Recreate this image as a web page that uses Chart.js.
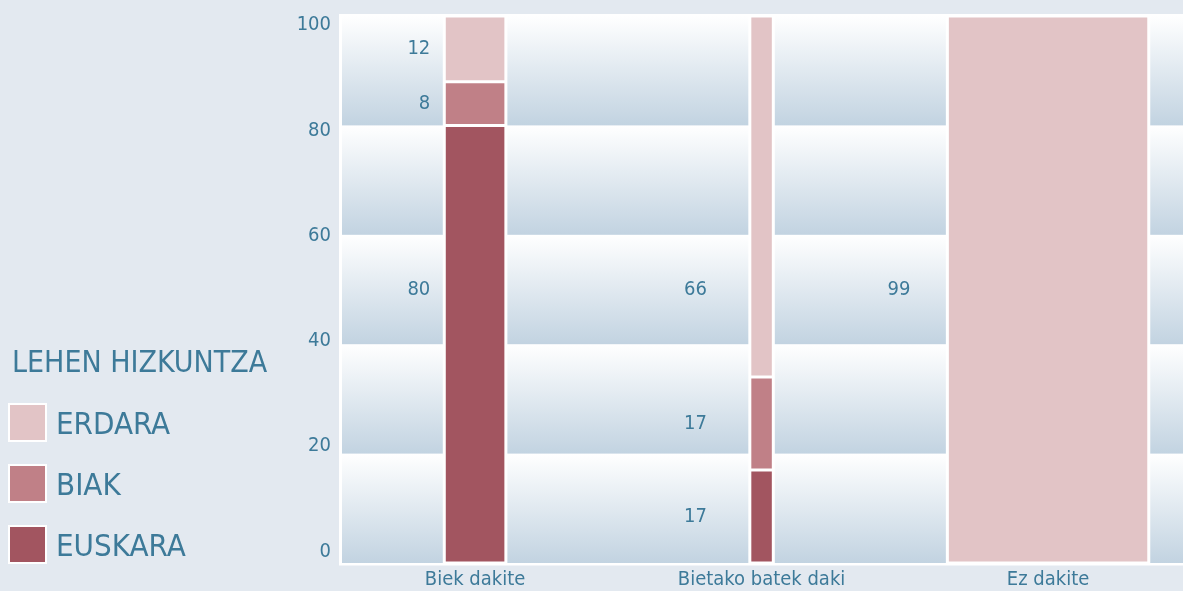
<!DOCTYPE html>
<html lang="eu">
<head>
    <meta charset="UTF-8">
    <title>Lehen hizkuntza</title>
    <script src="https://cdn.jsdelivr.net/npm/chart.js"></script>
    <style>
        html, body {
            margin: 0;
            padding: 0;
            background-color: #e3e9f0;
            overflow: hidden;
        }
        body {
            width: 1183px;
            height: 591px;
            position: relative;
            font-family: "DejaVu Sans Condensed", "DejaVu Sans", sans-serif;
            color: #3d7a99;
        }
        canvas {
            position: absolute;
            left: 0;
            top: 0;
        }
        .legend-title {
            position: absolute;
            left: 12px;
            top: 345px;
            font-size: 30px;
            line-height: 34px;
            white-space: nowrap;
        }
        .legend-item {
            position: absolute;
            left: 8px;
            height: 39px;
            display: flex;
            align-items: center;
            white-space: nowrap;
            font-size: 31px;
        }
        .legend-item .box {
            width: 35px;
            height: 35px;
            border: 2px solid #fff;
            margin-right: 9px;
        }
    </style>
</head>
<body>
    <canvas id="chart" width="1183" height="591"></canvas>
    <div id="legend"></div>

    <script>
        // data
        const categories = ['Biek dakite', 'Bietako batek daki', 'Ez dakite'];
        const columnShare = [21.5, 8.2, 70.3];   // bar width, % of people
        const seriesNames = ['EUSKARA', 'BIAK', 'ERDARA'];
        const euskara = [80, 17, 0];
        const biak = [8, 17, 0];
        const erdara = [12, 66, 99];
        const yTicks = [0, 20, 40, 60, 80, 100];

        const seriesColors = ['#a25560', '#c08087', '#e2c4c6'];
        const labelGap = [14, 43, 37];
        const textColor = '#3d7a99';
        const fontFamily = '"DejaVu Sans Condensed", "DejaVu Sans", sans-serif';

        const series = [euskara, biak, erdara];
        const totals = categories.map((c, i) => series.reduce((s, arr) => s + arr[i], 0));

        // one dataset per column and language, so each column can get its own width
        const datasets = [];
        categories.forEach((cat, ci) => {
            series.forEach((arr, si) => {
                if (!arr[ci]) return;
                datasets.push({
                    label: seriesNames[si],
                    data: [{ x: ci + 0.5, y: arr[ci] / totals[ci] * 100 }],
                    valueText: String(arr[ci]),
                    column: ci,
                    backgroundColor: seriesColors[si],
                    borderColor: '#ffffff',
                    borderWidth: 1.5,
                    borderSkipped: false,
                    categoryPercentage: 1,
                    barPercentage: columnShare[ci] / 100
                });
            });
        });

        // gradient tiles behind the bars
        const tilePlugin = {
            id: 'tiles',
            beforeDatasetsDraw(chart) {
                const { ctx, chartArea: a } = chart;
                const y = chart.scales.y;
                const cols = categories.map((c, ci) => {
                    const idx = chart.data.datasets.findIndex(d => d.column === ci);
                    const el = chart.getDatasetMeta(idx).data[0];
                    return [el.x - el.width / 2, el.x + el.width / 2];
                });
                const segs = [];
                let start = a.left + 1;
                cols.forEach(c => {
                    segs.push([start, c[0] - 1.5]);
                    start = c[1] + 1.5;
                });
                segs.push([start, a.right + 20]);

                ctx.save();
                ctx.fillStyle = '#ffffff';
                ctx.fillRect(a.left - 2, a.top - 2, a.right - a.left + 40, a.bottom - a.top + 4.5);
                for (let i = 0; i < yTicks.length - 1; i++) {
                    const top = y.getPixelForValue(yTicks[i + 1]);
                    const bot = y.getPixelForValue(yTicks[i]);
                    const g = ctx.createLinearGradient(0, top, 0, bot);
                    g.addColorStop(0, '#ffffff');
                    g.addColorStop(1, '#c2d3e1');
                    ctx.fillStyle = g;
                    segs.forEach(s => ctx.fillRect(s[0], top, s[1] - s[0], bot - top));
                }
                ctx.restore();
            },
            afterDatasetsDraw(chart) {
                const { ctx } = chart;
                const mid = chart.scales.y.getPixelForValue(50);
                ctx.save();
                ctx.font = '20px ' + fontFamily;
                ctx.fillStyle = textColor;
                ctx.textAlign = 'right';
                ctx.textBaseline = 'middle';
                chart.data.datasets.forEach((ds, i) => {
                    const el = chart.getDatasetMeta(i).data[0];
                    const top = Math.min(el.y, el.base);
                    const bottom = Math.max(el.y, el.base);
                    const ly = (top < mid && bottom > mid) ? mid : (top + bottom) / 2;
                    ctx.fillText(ds.valueText, el.x - el.width / 2 - labelGap[ds.column], ly);
                });
                ctx.restore();
            }
        };

        new Chart(document.getElementById('chart'), {
            type: 'bar',
            data: { datasets: datasets },
            plugins: [tilePlugin],
            options: {
                responsive: false,
                animation: false,
                layout: { padding: { left: 291, top: 16, right: 0, bottom: 0 } },
                plugins: {
                    legend: { display: false },
                    tooltip: { enabled: false }
                },
                scales: {
                    x: {
                        type: 'linear',
                        stacked: true,
                        offset: false,
                        min: 0.032,
                        max: 2.971,
                        afterBuildTicks: axis => {
                            axis.ticks = categories.map((c, i) => ({ value: i + 0.5 }));
                        },
                        afterFit: axis => { axis.height = 28; },
                        grid: { display: false, drawTicks: false },
                        border: { display: false },
                        ticks: {
                            autoSkip: false,
                            maxRotation: 0,
                            padding: 5,
                            color: textColor,
                            font: { family: fontFamily, size: 20 },
                            callback: value => categories[Math.floor(value)]
                        }
                    },
                    y: {
                        stacked: true,
                        min: 0,
                        max: 100,
                        display: false
                    },
                    // label axis: the picture spaces its tick labels a little tighter than the bands
                    yLabels: {
                        position: 'left',
                        min: -2.2,
                        max: 101.75,
                        afterBuildTicks: axis => {
                            axis.ticks = yTicks.map(v => ({ value: v }));
                        },
                        afterFit: axis => {
                            axis.width = 50;
                            axis.paddingTop = 0;
                            axis.paddingBottom = 0;
                        },
                        grid: { display: false, drawTicks: false },
                        border: { display: false },
                        ticks: {
                            padding: 10,
                            color: textColor,
                            font: { family: fontFamily, size: 20 }
                        }
                    }
                }
            }
        });

        // legend, top to bottom as in the picture
        const legend = document.getElementById('legend');
        const title = document.createElement('div');
        title.className = 'legend-title';
        title.textContent = 'LEHEN HIZKUNTZA';
        legend.appendChild(title);
        [2, 1, 0].forEach((si, row) => {
            const item = document.createElement('div');
            item.className = 'legend-item';
            item.style.top = (403 + row * 61) + 'px';
            item.innerHTML = '<span class="box" style="background:' + seriesColors[si] + '"></span>' + seriesNames[si];
            legend.appendChild(item);
        });
    </script>
</body>
</html>
